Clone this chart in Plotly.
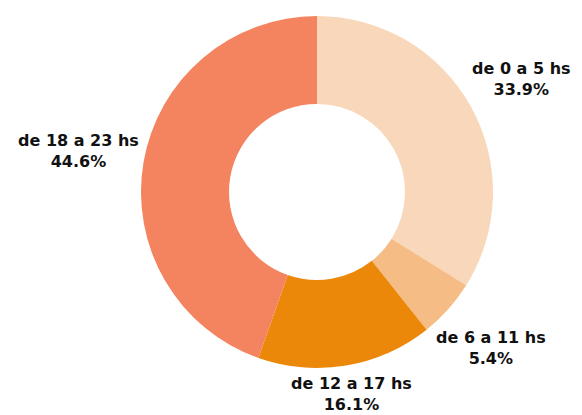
import math
import plotly.graph_objects as go

labels = ["de 0 a 5 hs", "de 6 a 11 hs", "de 12 a 17 hs", "de 18 a 23 hs"]
values = [33.9, 5.4, 16.1, 44.6]
colors = ["#F9D7BA", "#F5BC86", "#EB8809", "#F4835F"]

W, H = 582, 415
off = 8                      # page body margin offset
cx, cy, r = 317 - off, 192 - off, 176
gap_r = 183                  # distance from centre to nearest label edge
font_size = 16
half_h = 17
box_half = 21                # half height of a two-line label box
max_py = H - off - box_half  # keep labels inside the visible window

fig = go.Figure(go.Pie(
    labels=labels,
    values=values,
    hole=0.5,
    sort=False,
    direction="clockwise",
    rotation=0,
    marker=dict(colors=colors, line=dict(width=0)),
    textinfo="none",
    hoverinfo="label+percent",
    domain=dict(x=[(cx - r) / W, (cx + r) / W], y=[(H - cy - r) / H, (H - cy + r) / H]),
    showlegend=False,
))

total = sum(values)
cum = 0.0
for lab, v in zip(labels, values):
    mid = (cum + v / 2) / total * 2 * math.pi
    cum += v
    s, c = math.sin(mid), math.cos(mid)
    half_w = len(lab) * 8.8 / 2
    d = gap_r + half_w * abs(s) + half_h * abs(c)
    px = cx + d * s
    py = min(cy - d * c, max_py)
    fig.add_annotation(
        x=px / W, y=1 - py / H, xref="paper", yref="paper",
        xanchor="center", yanchor="middle", showarrow=False, align="center",
        text=f"<b>{lab}<br>{v / total * 100:.1f}%</b>",
        font=dict(family="DejaVu Sans", size=font_size, color="#111111"),
    )

fig.update_layout(
    width=W, height=H,
    margin=dict(l=0, r=0, t=0, b=0),
    paper_bgcolor="white",
    plot_bgcolor="white",
)
fig.write_html("out.html")
